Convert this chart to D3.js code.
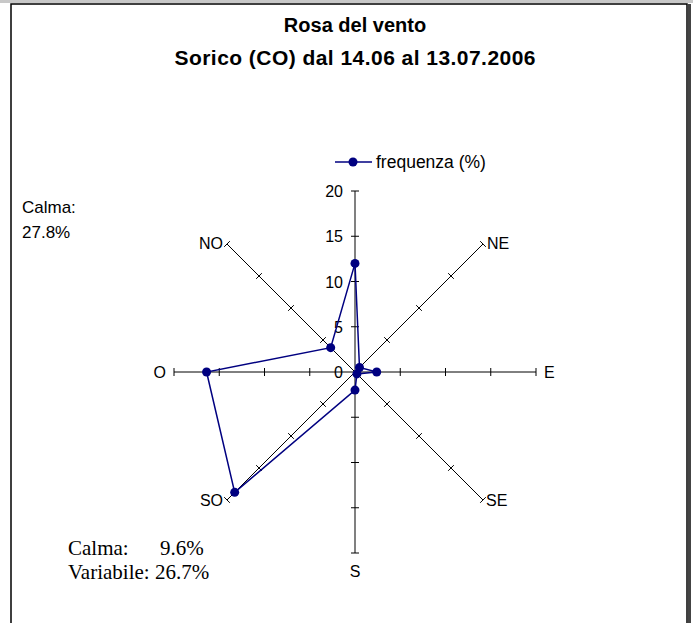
<!DOCTYPE html>
<html>
<head>
<meta charset="utf-8">
<script src="https://cdn.jsdelivr.net/npm/d3@7"></script>
<style>
  body { margin: 0; background: #fff; }
  text { font-family: "Liberation Sans", Arial, sans-serif; }
</style>
</head>
<body>
<svg width="693" height="623"></svg>
<script>
// wind directions, clockwise from north
const directions = ["N", "NE", "E", "SE", "S", "SO", "O", "NO"];
const frequency = [12.0, 0.7, 2.4, 0.3, 2.0, 18.8, 16.4, 3.8];
const radialTicks = [0, 5, 10, 15, 20];

const svg = d3.select("svg");
const cx = 355, cy = 372;

// frame
svg.append("rect").attr("x", 0).attr("y", 0).attr("width", 693).attr("height", 3).attr("fill", "#c8c8c8");
svg.append("rect").attr("x", 11).attr("y", 4).attr("width", 676).attr("height", 640)
  .attr("fill", "none").attr("stroke", "#000").attr("stroke-width", 1.5);
svg.append("rect").attr("x", 688).attr("y", 4).attr("width", 3).attr("height", 619).attr("fill", "#444");

// titles
svg.append("text").attr("x", 355).attr("y", 32).attr("text-anchor", "middle")
  .style("font-weight", "bold").style("font-size", "20px").text("Rosa del vento");
svg.append("text").attr("x", 355).attr("y", 65).attr("text-anchor", "middle")
  .style("font-weight", "bold").style("font-size", "21px")
  .attr("textLength", 361).attr("lengthAdjust", "spacing")
  .text("Sorico (CO) dal 14.06 al 13.07.2006");

const r = d3.scaleLinear().domain([0, 20]).range([0, 181]);
const angle = d3.scalePoint().domain(directions.concat(["_"])).range([0, 2 * Math.PI]);

const pos = (dir, v) => {
  const a = angle(dir);
  return [cx + Math.sin(a) * r(v), cy - Math.cos(a) * r(v)];
};

const g = svg.append("g");

// spokes
directions.forEach(dir => {
  const [x2, y2] = pos(dir, 20);
  const isVert = dir === "N" || dir === "S";
  g.append("line").attr("x1", cx).attr("y1", cy).attr("x2", x2).attr("y2", y2)
    .attr("stroke", isVert ? "#808080" : "#000")
    .attr("stroke-width", isVert ? 2 : 1);
  const a = angle(dir);
  radialTicks.slice(1).forEach(t => {
    const [tx, ty] = pos(dir, t);
    const px = Math.cos(a) * 4, py = Math.sin(a) * 4;
    g.append("line").attr("x1", tx - px).attr("y1", ty - py).attr("x2", tx + px).attr("y2", ty + py)
      .attr("stroke", "#000").attr("stroke-width", 1);
  });
});

// value labels on north spoke
radialTicks.forEach(t => {
  g.append("text").attr("x", cx - 12).attr("y", cy - r(t) + 6)
    .attr("text-anchor", "end").style("font-size", "16px").text(t);
});

// direction labels
const labelOffset = {
  NE: [4, 5, "start"], E: [8, 6, "start"], SE: [3, 6, "start"], S: [0, 24, "middle"],
  SO: [-4, 6, "end"], O: [-8, 6, "end"], NO: [-4, 5, "end"]
};
directions.forEach(dir => {
  if (!labelOffset[dir]) return;
  const [x, y] = pos(dir, 20);
  const o = labelOffset[dir];
  g.append("text").attr("x", x + o[0]).attr("y", y + o[1]).attr("text-anchor", o[2])
    .style("font-size", "16px").text(dir);
});

// series
const line = d3.lineRadial().angle(d => angle(d.dir)).radius(d => r(d.v)).curve(d3.curveLinearClosed);
const pts = directions.map((d, i) => ({ dir: d, v: frequency[i] }));
const sg = svg.append("g").attr("transform", `translate(${cx},${cy})`);
sg.append("path").attr("d", line(pts)).attr("fill", "none").attr("stroke", "#000080").attr("stroke-width", 1.5);
sg.selectAll("circle").data(pts).enter().append("circle")
  .attr("cx", d => Math.sin(angle(d.dir)) * r(d.v))
  .attr("cy", d => -Math.cos(angle(d.dir)) * r(d.v))
  .attr("r", 4.5).attr("fill", "#000080");

// legend
svg.append("line").attr("x1", 335).attr("x2", 372).attr("y1", 162).attr("y2", 162)
  .attr("stroke", "#000080").attr("stroke-width", 1.5);
svg.append("circle").attr("cx", 353).attr("cy", 162).attr("r", 4.5).attr("fill", "#000080");
svg.append("text").attr("x", 376).attr("y", 168).style("font-size", "17.5px").text("frequenza (%)");

// calm notes
svg.append("text").attr("x", 22).attr("y", 213).style("font-size", "17px").text("Calma:");
svg.append("text").attr("x", 22).attr("y", 238).style("font-size", "17px").text("27.8%");
const serif = "'Liberation Serif', 'Times New Roman', serif";
svg.append("text").attr("x", 68).attr("y", 555).style("font-family", serif).style("font-size", "21px").text("Calma:");
svg.append("text").attr("x", 160).attr("y", 555).style("font-family", serif).style("font-size", "21px").text("9.6%");
svg.append("text").attr("x", 68).attr("y", 579).style("font-family", serif).style("font-size", "21px").text("Variabile: 26.7%");
</script>
</body>
</html>
